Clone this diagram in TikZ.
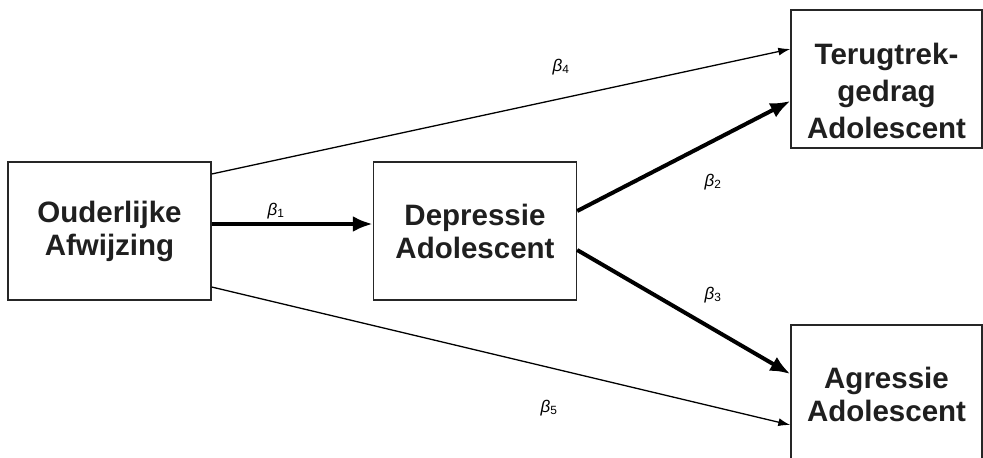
\documentclass[tikz,border=0pt]{standalone}
\usepackage{fontspec}
\setmainfont{Liberation Sans}
\usetikzlibrary{arrows.meta}
\newcommand{\coef}[1]{\textit{β}\textsubscript{#1}}
\begin{document}
\begin{tikzpicture}[x=1pt,y=-1pt,line cap=butt,line join=miter,
 varbox/.style={draw=black!85,line width=1.4pt,inner sep=0pt,align=center,
  minimum width=203pt,minimum height=138pt,
  font=\fontsize{29.5}{33}\selectfont\bfseries,text=black!88},
 thinpath/.style={line width=1.3pt,-{Latex[length=12pt,width=8pt]}},
 thickpath/.style={line width=4pt,-{Latex[length=20pt,width=16pt]}},
 coeflabel/.style={font=\fontsize{17}{20}\selectfont}]
 \useasboundingbox (0,0) rectangle (983,458);
 % variables
 \node[varbox,yshift=0pt] (ouder) at (109.5,231) {Ouderlijke\\Afwijzing};
 \node[varbox] (depr) at (475,231) {Depressie\\Adolescent};
 \node[varbox,minimum width=191pt] (terug) at (886.5,79) {};
 \node[varbox,draw=none,minimum size=0pt,font=\fontsize{29.5}{37}\selectfont\bfseries]
  (terugtxt) at ([yshift=-12pt]terug.center) {Terugtrek-\\gedrag\\Adolescent};
 \node[varbox,minimum width=191pt] (agres) at (886.5,394) {Agressie\\Adolescent};
 % paths
 \draw[thickpath] ([yshift=7pt]ouder.east) -- ([yshift=7pt]depr.west);
 \draw[thickpath] ([yshift=20pt]depr.east) -- ([yshift=-22pt]terug.west);
 \draw[thickpath] ([yshift=-19pt]depr.east) -- ([yshift=20pt]agres.west);
 \draw[thinpath] ([yshift=57pt]ouder.east) -- ([yshift=30pt]terug.west);
 \draw[thinpath] ([yshift=-56pt]ouder.east) -- ([yshift=-31pt]agres.west);
 % coefficients
 \node[coeflabel] (b1) at (276,211) {\coef{1}};
 \node[coeflabel] (b2) at (713,182) {\coef{2}};
 \node[coeflabel] (b3) at (713,295) {\coef{3}};
 \node[coeflabel] (b4) at (561,67) {\coef{4}};
 \node[coeflabel] (b5) at (549,408) {\coef{5}};
\end{tikzpicture}
\end{document}
